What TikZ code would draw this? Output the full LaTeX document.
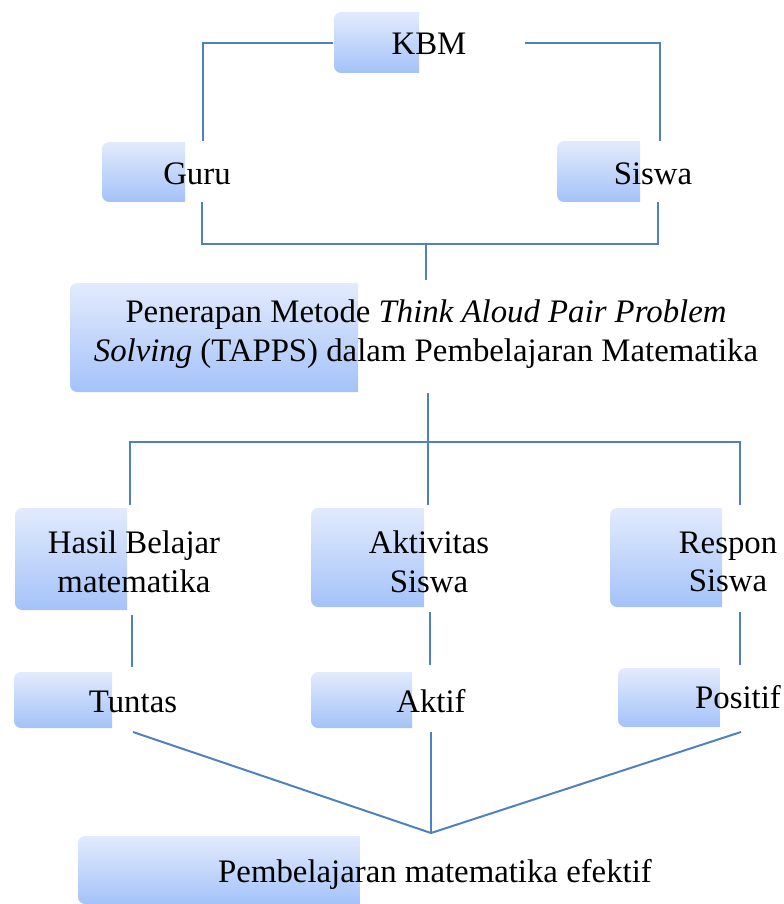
\documentclass[tikz,border=0pt]{standalone}
\usepackage{fontspec}
\setmainfont{Liberation Serif}
\definecolor{linkblue}{RGB}{79,129,189}
\definecolor{boxtop}{RGB}{226,235,252}
\definecolor{boxbottom}{RGB}{164,194,249}
\tikzstyle{boxtext} = [inner sep=0pt,outer sep=0pt,font=\fontsize{28}{33}\selectfont,align=center]
\tikzstyle{link} = [draw=linkblue,line width=1.7pt]
\tikzstyle{gradbox} = [top color=boxtop,bottom color=boxbottom,draw=none]
% shaded box, rounded on the left side only: {left}{top}{right}{bottom}
\newcommand{\gradrect}[4]{\shade[gradbox] (#3,#4) -- (#3,#2) [rounded corners=6] -- (#1,#2) -- (#1,#4) [sharp corners] -- cycle;}

\begin{document}
\begin{tikzpicture}[x=0.03cm,y=-0.03cm]
	\useasboundingbox (0,0) rectangle (783,904);
	
	\gradrect{334}{12}{419}{73}
	\gradrect{102}{142}{185}{202}
	\gradrect{557}{141}{640}{202}
	\gradrect{70}{283}{358}{392}
	\gradrect{15}{508}{127}{610}
	\gradrect{311}{508}{424}{607}
	\gradrect{610}{508}{722}{607}
	\gradrect{14}{672}{112}{728}
	\gradrect{311}{672}{412}{728}
	\gradrect{618}{668}{720}{727}
	\gradrect{78}{836}{360}{904}
	
	\node[boxtext,anchor=base] (kbm) at (429,55) {KBM};
	\node[boxtext,anchor=base] (guru) at (197,185) {Guru};
	\node[boxtext,anchor=base] (siswa) at (653,185) {Siswa};
	\node[boxtext] (tapps) at (426,334) {Penerapan Metode \textit{Think Aloud Pair Problem}\\\textit{Solving} (TAPPS) dalam Pembelajaran Matematika};
	\node[boxtext] (hasil) at (134,562) {Hasil Belajar\\matematika};
	\node[boxtext] (aktivitas) at (429,562) {Aktivitas\\Siswa};
	\node[boxtext] (respon) at (728,562) {Respon\\Siswa};
	\node[boxtext,anchor=base] (tuntas) at (133,712) {Tuntas};
	\node[boxtext,anchor=base] (aktif) at (431,712) {Aktif};
	\node[boxtext,anchor=base] (positif) at (738,708) {Positif};
	\node[boxtext,anchor=base] (efektif) at (435,882) {Pembelajaran matematika efektif};
	
	% connector ends
	\coordinate (kbmW) at (333,43);
	\coordinate (kbmE) at (525,43);
	\coordinate (guruN) at (203,141);
	\coordinate (siswaN) at (660,141);
	\coordinate (guruS) at (202,202);
	\coordinate (siswaS) at (658,202);
	\coordinate (tappsN) at (426,280);
	\coordinate (tappsS) at (428,393);
	\coordinate (hasilN) at (130,505);
	\coordinate (aktivitasN) at (428,505);
	\coordinate (responN) at (740,505);
	\coordinate (hasilS) at (132,615);
	\coordinate (aktivitasS) at (430,612);
	\coordinate (responS) at (740,612);
	\coordinate (tuntasN) at (132,667);
	\coordinate (aktifN) at (430,665);
	\coordinate (positifN) at (740,665);
	\coordinate (tuntasS) at (133,732);
	\coordinate (aktifS) at (431,732);
	\coordinate (positifS) at (741,732);
	\coordinate (efektifN) at (431,833);
	
	\draw[link] (kbmW) -| (guruN);
	\draw[link] (kbmE) -| (siswaN);
	\draw[link] (guruS) -- ++(0,42) -| (siswaS);
	\draw[link] (426,244) -- (tappsN);
	\draw[link] (tappsS) -- (aktivitasN);
	\draw[link] (hasilN) |- (428,442) -| (responN);
	\draw[link] (hasilS) -- (tuntasN);
	\draw[link] (aktivitasS) -- (aktifN);
	\draw[link] (responS) -- (positifN);
	\draw[link] (tuntasS) -- (efektifN);
	\draw[link] (aktifS) -- (efektifN);
	\draw[link] (positifS) -- (efektifN);
\end{tikzpicture}
\end{document}
